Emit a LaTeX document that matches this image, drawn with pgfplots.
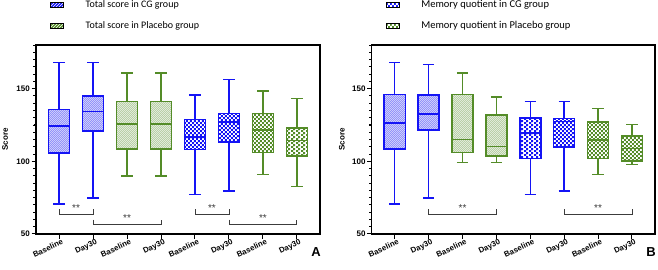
\documentclass[border=0pt]{standalone}
\usepackage{pgfplots}
\pgfplotsset{compat=1.18}
\usepgfplotslibrary{statistics}
\usetikzlibrary{patterns}
\usepackage{fontspec}
\setmainfont{Liberation Sans}
\newfontfamily\carl{Carlito}
\definecolor{blueC}{RGB}{20,20,245}
\definecolor{greenC}{RGB}{84,140,40}
\definecolor{brk}{RGB}{60,60,60}

\pgfdeclarepatternformonly{finechecker}{\pgfqpoint{0pt}{0pt}}{\pgfqpoint{4.4pt}{4.4pt}}{\pgfqpoint{4.4pt}{4.4pt}}{%
  \pgfpathrectangle{\pgfqpoint{0pt}{0pt}}{\pgfqpoint{2.2pt}{2.2pt}}%
  \pgfpathrectangle{\pgfqpoint{2.2pt}{2.2pt}}{\pgfqpoint{2.2pt}{2.2pt}}%
  \pgfusepath{fill}}
\pgfdeclarepatternformonly{finehatch}{\pgfqpoint{-0.5pt}{-0.5pt}}{\pgfqpoint{2.5pt}{2.5pt}}{\pgfqpoint{2pt}{2pt}}{%
  \pgfsetlinewidth{0.5pt}%
  \pgfpathmoveto{\pgfqpoint{-0.5pt}{-0.5pt}}%
  \pgfpathlineto{\pgfqpoint{2.5pt}{2.5pt}}%
  \pgfusepath{stroke}}

\pgfplotsset{
  hB/.style={draw=blueC, line width=1.5pt, boxplot/every box/.style={preaction={fill=blueC!12}, pattern=finehatch, pattern color=blueC!50}},
  hG/.style={draw=greenC, line width=1.5pt, boxplot/every box/.style={preaction={fill=greenC!8}, pattern=finehatch, pattern color=greenC!45}},
  cB/.style={draw=blueC, line width=1.5pt, boxplot/every box/.style={preaction={fill=white}, pattern=finechecker, pattern color=blueC}},
  cG/.style={draw=greenC, line width=1.5pt, boxplot/every box/.style={preaction={fill=white}, pattern=finechecker, pattern color=greenC}},
  panel/.style={
    scale only axis, width=284pt, height=189pt,
    xmin=0.32, xmax=8.68, ymin=50, ymax=180,
    xtick={1,...,8},
    xticklabels={Baseline,Day30,Baseline,Day30,Baseline,Day30,Baseline,Day30},
    xticklabel style={rotate=25, anchor=north east, inner sep=1pt, font=\bfseries\fontsize{7.8}{9}\selectfont, xshift=3pt},
    ytick={50,100,150}, minor y tick num=9,
    yticklabel style={font=\bfseries\fontsize{8}{9}\selectfont, inner sep=1.5pt},
    /pgf/number format/assume math mode=true,
    tick pos=left, tick align=outside,
    major tick length=4.5pt, minor tick length=2.5pt,
    tick style={draw=black, line width=1pt},
    axis line style={black, line width=1.4pt},
    ylabel={Score},
    ylabel style={font=\bfseries\fontsize{8}{9}\selectfont, anchor=center},
    legend style={draw=none, fill=none, inner sep=0pt, row sep=12.5pt, column sep=22pt,
      at={(0,1)}, anchor=south west, xshift=14pt, yshift=14.5pt,
      nodes={inner sep=0pt}},
    legend cell align=left,
    clip=false,
  },
}
% \bx{style}{position}{lower whisker}{lower quartile}{median}{upper quartile}{upper whisker}
\newcommand{\bx}[7]{\addplot[#1, forget plot, boxplot prepared={draw direction=y, draw position=#2, lower whisker=#3, lower quartile=#4, median=#5, upper quartile=#6, upper whisker=#7, box extend=0.62, whisker extend=0.33}] coordinates {};}
% tick marks of the frame
\newcommand{\frameticks}{%
  \pgfplotsinvokeforeach{55,60,65,70,75,80,85,90,95,105,110,115,120,125,130,135,140,145,155,160,165,170,175,180}{%
    \draw[black, line width=0.9pt] (axis cs:0.32,##1) -- ++(-2.6pt,0pt);}%
  \pgfplotsinvokeforeach{50,100,150}{%
    \draw[black, line width=1pt] (axis cs:0.32,##1) -- ++(-4.5pt,0pt);}%
  \pgfplotsinvokeforeach{1,...,8}{%
    \draw[black, line width=1pt] (axis cs:##1,50) -- ++(0pt,-4.5pt);}%
}

\begin{document}
\begin{tikzpicture}
\useasboundingbox (0,0) rectangle (658pt,270pt);
\begin{axis}[panel, name=A, at={(36pt,36pt)}, anchor=south west,
  ylabel style={at={(axis description cs:-0.109,0.5)}},
  legend style={font=\carl\fontsize{10}{11}\selectfont},
  legend image code/.code={\draw[draw=none, #1] (0pt,-2.5pt) rectangle (13pt,2.5pt);}]
\addlegendimage{fill=blueC, postaction={pattern=north east lines, pattern color=white}}
\addlegendentry{Total score in CG group}
\addlegendimage{fill=greenC, postaction={pattern=north east lines, pattern color=white}}
\addlegendentry{Total score in Placebo group}
\bx{hB}{1}{70.7}{105.8}{124.2}{135.7}{168}
\bx{hB}{2}{74.9}{120.7}{134.1}{145.0}{168}
\bx{hG}{3}{89.9}{108.3}{125.8}{141.2}{160.6}
\bx{hG}{4}{89.9}{108.3}{125.8}{141.2}{160.6}
\bx{cB}{5}{77.0}{108.1}{116.6}{128.8}{145.6}
\bx{cB}{6}{79.7}{113.4}{127.0}{132.9}{156.4}
\bx{cG}{7}{90.8}{106.2}{121.4}{133.0}{148.4}
\bx{cG}{8}{82.7}{103.5}{114.3}{122.8}{143.3}
\addplot[brk, line width=0.8pt, forget plot] coordinates {(1,67) (1,63.8) (2,63.8) (2,67)};
\addplot[brk, line width=0.8pt, forget plot] coordinates {(2,59.9) (2,56.7) (4,56.7) (4,59.9)};
\addplot[brk, line width=0.8pt, forget plot] coordinates {(5,67) (5,63.8) (6,63.8) (6,67)};
\addplot[brk, line width=0.8pt, forget plot] coordinates {(6,59.9) (6,56.7) (8,56.7) (8,59.9)};
\node[brk, anchor=base, font=\fontsize{10}{10}\selectfont] at (axis cs:1.5,65.2) {**};
\node[brk, anchor=base, font=\fontsize{10}{10}\selectfont] at (axis cs:3,58.3) {**};
\node[brk, anchor=base, font=\fontsize{10}{10}\selectfont] at (axis cs:5.5,65.2) {**};
\node[brk, anchor=base, font=\fontsize{10}{10}\selectfont] at (axis cs:7,58.3) {**};
\frameticks
\end{axis}
\node[font=\bfseries\fontsize{13}{13}\selectfont, xshift=-4pt, yshift=-18pt] at (A.south east) {A};

\begin{axis}[panel, name=B, at={(371.7pt,36pt)}, anchor=south west, width=283.3pt,
  ylabel style={at={(axis description cs:-0.105,0.5)}},
  legend style={font=\carl\fontsize{10.5}{11}\selectfont},
  legend image code/.code={\draw[draw=none, #1] (0pt,-2.5pt) rectangle (13pt,2.5pt);}]
\addlegendimage{fill=blueC, postaction={pattern=finechecker, pattern color=white}}
\addlegendentry{Memory quotient in CG group}
\addlegendimage{fill=greenC, postaction={pattern=finechecker, pattern color=white}}
\addlegendentry{Memory quotient in Placebo group}
\bx{hB}{1}{70.7}{108.5}{126.3}{146.1}{168}
\bx{hB}{2}{74.9}{121.7}{132.5}{145.6}{166.6}
\bx{hG}{3}{99.1}{106.2}{115.0}{146.1}{160.6}
\bx{hG}{4}{99.1}{103.7}{110.1}{132.0}{144.2}
\bx{cB}{5}{77.0}{102.1}{119.6}{129.7}{141.2}
\bx{cB}{6}{79.7}{109.7}{127.4}{129.5}{141.2}
\bx{cG}{7}{90.8}{101.8}{114.7}{127.0}{136.4}
\bx{cG}{8}{97.7}{100.2}{108.8}{117.3}{125.3}
\addplot[brk, line width=0.8pt, forget plot] coordinates {(2,67) (2,63.8) (4,63.8) (4,67)};
\addplot[brk, line width=0.8pt, forget plot] coordinates {(6,67) (6,63.8) (8,63.8) (8,67)};
\node[brk, anchor=base, font=\fontsize{10}{10}\selectfont] at (axis cs:3,65.2) {**};
\node[brk, anchor=base, font=\fontsize{10}{10}\selectfont] at (axis cs:7,65.2) {**};
\frameticks
\end{axis}
\node[font=\bfseries\fontsize{13}{13}\selectfont, xshift=-4pt, yshift=-18pt] at (B.south east) {B};
\end{tikzpicture}
\end{document}
